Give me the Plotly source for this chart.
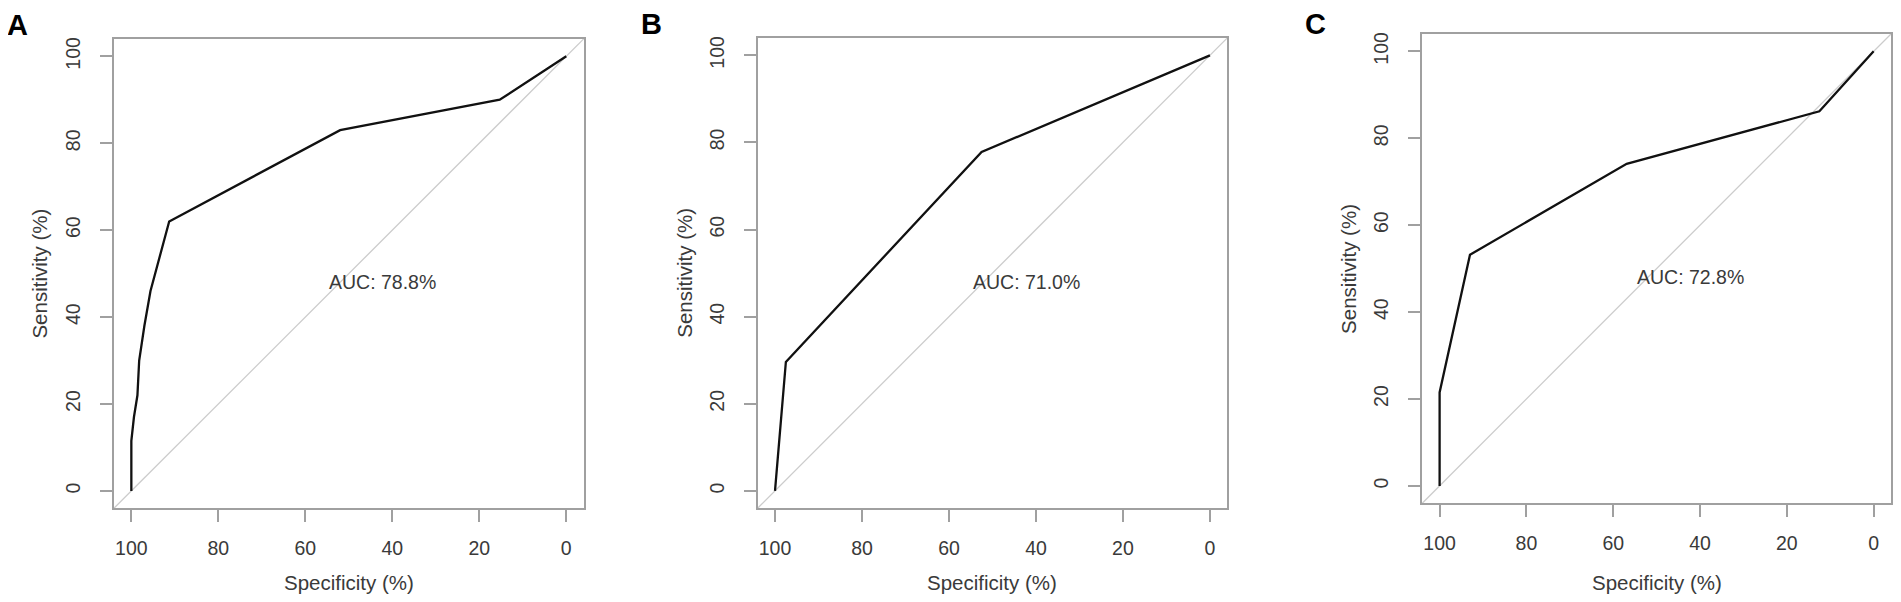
import plotly.graph_objects as go

# page body has an 8px margin, so the figure is a bit smaller and shifted
OFF = 8
W, H = 1901 - 2 * OFF, 602 - 2 * OFF

# ROC curves (specificity %, sensitivity %)
spec_a = [100, 100, 99.4, 98.6, 98.2, 97.0, 95.6, 91.3, 52.0, 15.3, 0]
sens_a = [0, 11.5, 17.0, 22.0, 30.0, 38.0, 46.0, 62.0, 83.0, 90.0, 100]

spec_b = [100, 97.5, 52.5, 0]
sens_b = [0, 29.6, 77.8, 100]

spec_c = [100, 100, 93.0, 56.9, 12.5, 0]
sens_c = [0, 21.5, 53.2, 74.1, 86.2, 100]

panel_letters = ["A", "B", "C"]
auc_labels = ["AUC: 78.8%", "AUC: 71.0%", "AUC: 72.8%"]
tick_vals = [0, 20, 40, 60, 80, 100]
tick_text = ["0", "20", "40", "60", "80", "100"]

# plot boxes in screen pixels (left, right, top, bottom)
boxes = [(114, 584, 37, 508), (758, 1228, 36, 508), (1423, 1892, 32, 503)]
letter_pos = [(18, 23), (652, 22), (1316, 22)]


def px(x):
    return (x - OFF) / W


def py(y):
    return 1 - (y - OFF) / H


font_fam = "Liberation Sans, Arial, sans-serif"
txt_col = "#3a3a3a"
box_col = "#a0a0a0"

fig = go.Figure()
series = [(spec_a, sens_a), (spec_b, sens_b), (spec_c, sens_c)]

for i, (sx, sy) in enumerate(series):
    n = "" if i == 0 else str(i + 1)
    l, r, t, b = boxes[i]
    fig.add_trace(go.Scatter(x=sx, y=sy, mode="lines", xaxis="x" + n, yaxis="y" + n,
                             line=dict(color="#111111", width=2.3), showlegend=False,
                             hoverinfo="skip"))
    axis_common = dict(range=[-4, 104], tickvals=tick_vals, ticktext=tick_text,
                       ticks="outside", ticklen=12, tickwidth=1.5, tickcolor=box_col,
                       showline=True, mirror=True, linecolor=box_col, linewidth=2,
                       showgrid=False, zeroline=False,
                       tickfont=dict(family=font_fam, size=19.5, color=txt_col))
    xa = dict(axis_common)
    xa.update(domain=[px(l), px(r)], range=[104, -4], anchor="y" + n,
              ticklabelstandoff=9)
    ya = dict(axis_common)
    ya.update(domain=[py(b), py(t)], anchor="x" + n, tickangle=-90,
              ticklabelstandoff=12)
    fig.layout["xaxis" + n] = xa
    fig.layout["yaxis" + n] = ya

    # chance diagonal across the whole box
    fig.add_shape(type="line", xref="x" + n + " domain", yref="y" + n + " domain",
                  x0=0, y0=0, x1=1, y1=1, line=dict(color="#cccccc", width=1.3),
                  layer="below")

    fig.add_annotation(x=55, y=48, xref="x" + n, yref="y" + n, text=auc_labels[i],
                       showarrow=False, xanchor="left", yanchor="middle",
                       font=dict(family=font_fam, size=19.5, color=txt_col))
    fig.add_annotation(x=px((l + r) / 2), y=py(582), xref="paper", yref="paper",
                       text="Specificity (%)", showarrow=False,
                       xanchor="center", yanchor="middle",
                       font=dict(family=font_fam, size=20.5, color=txt_col))
    fig.add_annotation(x=px(l - 74), y=py((t + b) / 2), xref="paper", yref="paper",
                       text="Sensitivity (%)", showarrow=False, textangle=-90,
                       xanchor="center", yanchor="middle",
                       font=dict(family=font_fam, size=20.5, color=txt_col))
    lx, ly = letter_pos[i]
    fig.add_annotation(x=px(lx), y=py(ly), xref="paper", yref="paper",
                       text="<b>" + panel_letters[i] + "</b>", showarrow=False,
                       xanchor="center", yanchor="middle",
                       font=dict(family=font_fam, size=29, color="#000000"))

fig.update_layout(width=W, height=H, margin=dict(l=0, r=0, t=0, b=0),
                  paper_bgcolor="white", plot_bgcolor="white")

fig.write_html("out.html")
